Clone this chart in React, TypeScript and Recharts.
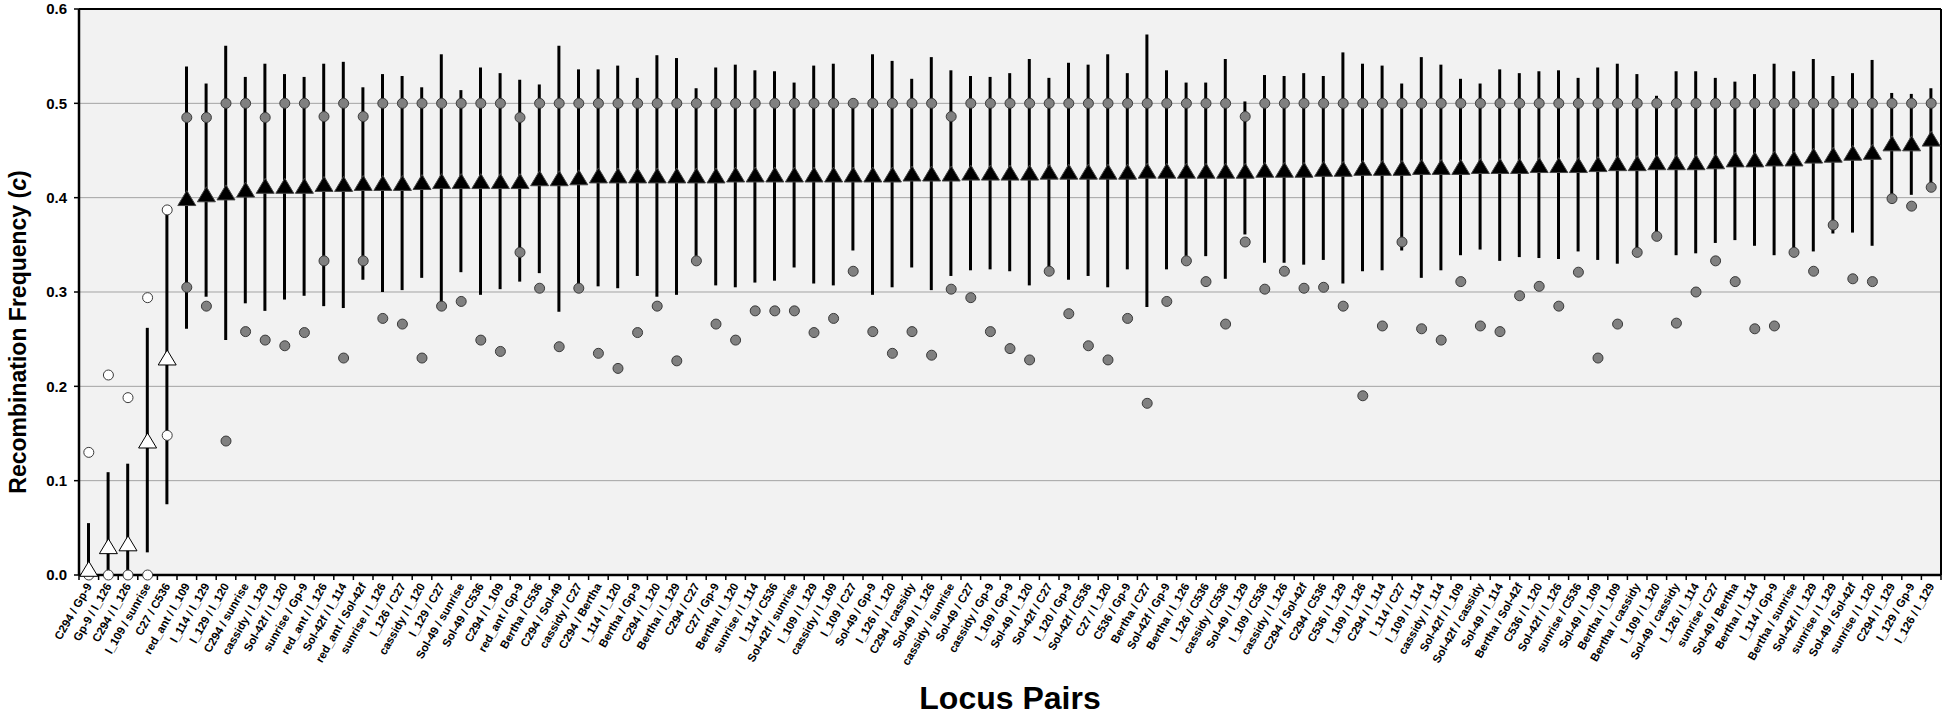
import { ComposedChart, Bar, Line, XAxis, YAxis, CartesianGrid, ReferenceLine, Label } from "recharts";

// locus pairs, left to right
const pairs = [
  "C294 / Gp-9", "Gp-9 / l_126", "C294 / l_126", "l_109 / sunrise", "C27 / C536",
  "red_ant / l_109", "l_114 / l_129", "l_129 / l_120", "C294 / sunrise", "cassidy / l_129",
  "Sol-42f / l_120", "sunrise / Gp-9", "red_ant / l_126", "Sol-42f / l_114", "red_ant / Sol-42f",
  "sunrise / l_126", "l_126 / C27", "cassidy / l_120", "l_129 / C27", "Sol-49 / sunrise",
  "Sol-49 / C536", "C294 / l_109", "red_ant / Gp-9", "Bertha / C536", "C294 / Sol-49",
  "cassidy / C27", "C294 / Bertha", "l_114 / l_120", "Bertha / Gp-9", "C294 / l_120",
  "Bertha / l_129", "C294 / C27", "C27 / Gp-9", "Bertha / l_120", "sunrise / l_114",
  "l_114 / C536", "Sol-42f / sunrise", "l_109 / l_129", "cassidy / l_109", "l_109 / C27",
  "Sol-49 / Gp-9", "l_126 / l_120", "C294 / cassidy", "Sol-49 / l_126", "cassidy / sunrise",
  "Sol-49 / C27", "cassidy / Gp-9", "l_109 / Gp-9", "Sol-49 / l_120", "Sol-42f / C27",
  "l_120 / Gp-9", "Sol-42f / C536", "C27 / l_120", "C536 / Gp-9", "Bertha / C27",
  "Sol-42f / Gp-9", "Bertha / l_126", "l_126 / C536", "cassidy / C536", "Sol-49 / l_129",
  "l_109 / C536", "cassidy / l_126", "C294 / Sol-42f", "C294 / C536", "C536 / l_129",
  "l_109 / l_126", "C294 / l_114", "l_114 / C27", "l_109 / l_114", "cassidy / l_114",
  "Sol-42f / l_109", "Sol-42f / cassidy", "Sol-49 / l_114", "Bertha / Sol-42f", "C536 / l_120",
  "Sol-42f / l_126", "sunrise / C536", "Sol-49 / l_109", "Bertha / l_109", "Bertha / cassidy",
  "l_109 / l_120", "Sol-49 / cassidy", "l_126 / l_114", "sunrise / C27", "Sol-49 / Bertha",
  "Bertha / l_114", "l_114 / Gp-9", "Bertha / sunrise", "Sol-42f / l_129", "sunrise / l_129",
  "Sol-49 / Sol-42f", "sunrise / l_120", "C294 / l_129", "l_129 / Gp-9", "l_126 / l_129",
];

// mean recombination frequency (triangles)
const meanC = [
  0.005, 0.029, 0.032, 0.141, 0.229,
  0.398, 0.402, 0.404, 0.407, 0.411, 0.411, 0.411, 0.413, 0.413, 0.414,
  0.414, 0.414, 0.415, 0.416, 0.416, 0.416, 0.416, 0.416, 0.419, 0.419,
  0.42, 0.422, 0.422, 0.422, 0.422, 0.422, 0.422, 0.422, 0.423, 0.423,
  0.423, 0.423, 0.423, 0.423, 0.423, 0.423, 0.423, 0.424, 0.424, 0.424,
  0.425, 0.425, 0.425, 0.425, 0.426, 0.426, 0.426, 0.426, 0.426, 0.427,
  0.427, 0.427, 0.427, 0.427, 0.427, 0.428, 0.428, 0.428, 0.429, 0.429,
  0.43, 0.43, 0.43, 0.431, 0.431, 0.431, 0.432, 0.432, 0.432, 0.433,
  0.433, 0.433, 0.434, 0.435, 0.435, 0.436, 0.436, 0.436, 0.437, 0.439,
  0.439, 0.44, 0.44, 0.443, 0.444, 0.446, 0.447, 0.456, 0.456, 0.461,
];

// interval ends (vertical bars)
const ciLow = [
  0.0, 0.0, 0.0, 0.024, 0.075,
  0.261, 0.295, 0.249, 0.288, 0.28, 0.292, 0.296, 0.285, 0.283, 0.313,
  0.3, 0.302, 0.315, 0.285, 0.321, 0.297, 0.303, 0.311, 0.32, 0.279,
  0.305, 0.306, 0.304, 0.317, 0.295, 0.297, 0.333, 0.307, 0.305, 0.31,
  0.312, 0.326, 0.309, 0.307, 0.344, 0.297, 0.305, 0.326, 0.302, 0.317,
  0.323, 0.324, 0.322, 0.307, 0.322, 0.313, 0.317, 0.305, 0.324, 0.284,
  0.324, 0.333, 0.338, 0.314, 0.361, 0.331, 0.331, 0.329, 0.334, 0.309,
  0.322, 0.323, 0.344, 0.315, 0.323, 0.339, 0.345, 0.333, 0.337, 0.336,
  0.335, 0.343, 0.334, 0.33, 0.342, 0.359, 0.339, 0.341, 0.352, 0.355,
  0.349, 0.339, 0.342, 0.343, 0.362, 0.363, 0.349, 0.399, 0.403, 0.411,
];
const ciHigh = [
  0.055, 0.109, 0.118, 0.262, 0.387,
  0.539, 0.521, 0.561, 0.528, 0.542, 0.531, 0.528, 0.542, 0.544, 0.517,
  0.531, 0.529, 0.517, 0.552, 0.514, 0.538, 0.532, 0.525, 0.52, 0.561,
  0.536, 0.536, 0.54, 0.527, 0.551, 0.548, 0.516, 0.538, 0.541, 0.535,
  0.534, 0.522, 0.54, 0.542, 0.5, 0.552, 0.545, 0.526, 0.549, 0.535,
  0.529, 0.528, 0.532, 0.547, 0.527, 0.543, 0.541, 0.552, 0.532, 0.573,
  0.535, 0.522, 0.522, 0.547, 0.502, 0.53, 0.529, 0.532, 0.529, 0.554,
  0.542, 0.54, 0.521, 0.549, 0.541, 0.526, 0.521, 0.536, 0.532, 0.534,
  0.535, 0.527, 0.538, 0.542, 0.531, 0.508, 0.534, 0.534, 0.527, 0.523,
  0.531, 0.542, 0.534, 0.547, 0.529, 0.532, 0.546, 0.511, 0.51, 0.516,
];

// upper and lower single-family estimates (circles)
const estHigh = [
  0.13, 0.212, 0.188, 0.294, 0.387,
  0.485, 0.485, 0.5, 0.5, 0.485, 0.5, 0.5, 0.486, 0.5, 0.486,
  0.5, 0.5, 0.5, 0.5, 0.5, 0.5, 0.5, 0.485, 0.5, 0.5,
  0.5, 0.5, 0.5, 0.5, 0.5, 0.5, 0.5, 0.5, 0.5, 0.5,
  0.5, 0.5, 0.5, 0.5, 0.5, 0.5, 0.5, 0.5, 0.5, 0.486,
  0.5, 0.5, 0.5, 0.5, 0.5, 0.5, 0.5, 0.5, 0.5, 0.5,
  0.5, 0.5, 0.5, 0.5, 0.486, 0.5, 0.5, 0.5, 0.5, 0.5,
  0.5, 0.5, 0.5, 0.5, 0.5, 0.5, 0.5, 0.5, 0.5, 0.5,
  0.5, 0.5, 0.5, 0.5, 0.5, 0.5, 0.5, 0.5, 0.5, 0.5,
  0.5, 0.5, 0.5, 0.5, 0.5, 0.5, 0.5, 0.5, 0.5, 0.5,
];
const estLow = [
  0.0, 0.0, 0.0, 0.0, 0.148,
  0.305, 0.285, 0.142, 0.258, 0.249, 0.243, 0.257, 0.333, 0.23, 0.333,
  0.272, 0.266, 0.23, 0.285, 0.29, 0.249, 0.237, 0.342, 0.304, 0.242,
  0.304, 0.235, 0.219, 0.257, 0.285, 0.227, 0.333, 0.266, 0.249, 0.28,
  0.28, 0.28, 0.257, 0.272, 0.322, 0.258, 0.235, 0.258, 0.233, 0.303,
  0.294, 0.258, 0.24, 0.228, 0.322, 0.277, 0.243, 0.228, 0.272, 0.182,
  0.29, 0.333, 0.311, 0.266, 0.353, 0.303, 0.322, 0.304, 0.305, 0.285,
  0.19, 0.264, 0.353, 0.261, 0.249, 0.311, 0.264, 0.258, 0.296, 0.306,
  0.285, 0.321, 0.23, 0.266, 0.342, 0.359, 0.267, 0.3, 0.333, 0.311,
  0.261, 0.264, 0.342, 0.322, 0.371, 0.314, 0.311, 0.399, 0.391, 0.411,
];

const yTicks = [0, 0.1, 0.2, 0.3, 0.4, 0.5, 0.6];

// the first pairs are drawn with open (white) markers
const OPEN_COUNT = 5;

const data = pairs.map((name, i) => ({
  name,
  mean: meanC[i],
  ci: [ciLow[i], ciHigh[i]],
  hi: estHigh[i],
  lo: estLow[i],
}));

const W = 1946;
const H = 719;
const PLOT_LEFT = 79;
const PLOT_RIGHT = 1941;
const BAND = (PLOT_RIGHT - PLOT_LEFT) / pairs.length;
const TICK_SIZE = 5;
const TICK_MARGIN = 4;
const FONT = "'Liberation Sans', Arial, sans-serif";

function PairTick(props: any) {
  const { x, y, payload, index } = props;
  const axisY = y - TICK_SIZE - TICK_MARGIN;
  const half = BAND / 2;
  return (
    <g>
      <line x1={x + half} x2={x + half} y1={axisY} y2={axisY + TICK_SIZE} stroke="#000" strokeWidth={1.5} />
      {index === 0 && (
        <line x1={x - half} x2={x - half} y1={axisY} y2={axisY + TICK_SIZE} stroke="#000" strokeWidth={1.5} />
      )}
      <text
        x={x}
        y={y}
        dy="0.35em"
        textAnchor="end"
        transform={`rotate(-60, ${x}, ${y})`}
        fontSize={11.5}
        fontWeight="bold"
        fontFamily={FONT}
        fill="#000"
      >
        {payload.value}
      </text>
    </g>
  );
}

function circleDot(p: any) {
  const open = p.index < OPEN_COUNT;
  return (
    <circle
      key={`c-${p.dataKey}-${p.index}`}
      cx={p.cx}
      cy={p.cy}
      r={5}
      fill={open ? "#fff" : "#808080"}
      stroke="#3a3a3a"
      strokeWidth={1}
    />
  );
}

function triangleDot(p: any) {
  const open = p.index < OPEN_COUNT;
  const { cx, cy } = p;
  const pts = `${cx},${cy - 9} ${cx - 9},${cy + 6} ${cx + 9},${cy + 6}`;
  return (
    <polygon
      key={`t-${p.index}`}
      points={pts}
      fill={open ? "#fff" : "#000"}
      stroke={open ? "#000" : "#444"}
      strokeWidth={1}
    />
  );
}

export default function App() {
  return (
    <div style={{ position: "absolute", left: 0, top: 0, width: W, height: H, background: "#fff" }}>
      <ComposedChart width={W} height={H} data={data} margin={{ top: 9, right: W - PLOT_RIGHT, bottom: 0, left: 19 }}>
        <CartesianGrid vertical={false} stroke="#a3a3a3" fill="#f2f2f2" />
        <XAxis
          dataKey="name"
          interval={0}
          height={144}
          tickSize={TICK_SIZE}
          tickMargin={TICK_MARGIN}
          tickLine={false}
          axisLine={{ stroke: "#000", strokeWidth: 2.5 }}
          tick={<PairTick />}
        >
          <Label
            content={() => (
              <text x={1010} y={709} textAnchor="middle" fontSize={32} fontWeight="bold" fontFamily={FONT} fill="#000">
                Locus Pairs
              </text>
            )}
          />
        </XAxis>
        <YAxis
          width={60}
          domain={[0, 0.6]}
          ticks={yTicks}
          tickFormatter={(v: number) => v.toFixed(1)}
          tickSize={5}
          tickMargin={7}
          axisLine={{ stroke: "#000", strokeWidth: 2.5 }}
          tickLine={{ stroke: "#000", strokeWidth: 1.5 }}
          tick={{ fontSize: 15, fontWeight: "bold", fill: "#000", fontFamily: FONT }}
        >
          <Label
            content={() => (
              <text
                x={26}
                y={332}
                transform="rotate(-90, 26, 332)"
                textAnchor="middle"
                fontSize={23}
                fontWeight="bold"
                fontFamily={FONT}
                fill="#000"
              >
                Recombination Frequency (<tspan fontStyle="italic">c</tspan>)
              </text>
            )}
          />
        </YAxis>
        <ReferenceLine y={0.6} stroke="#000" strokeWidth={2} />
        <ReferenceLine x={pairs[pairs.length - 1]} position="end" stroke="#000" strokeWidth={2} />

        <Bar dataKey="ci" barSize={3} fill="#000" isAnimationActive={false} />
        <Line dataKey="hi" stroke="none" dot={circleDot} activeDot={false} legendType="none" isAnimationActive={false} />
        <Line dataKey="lo" stroke="none" dot={circleDot} activeDot={false} legendType="none" isAnimationActive={false} />
        <Line dataKey="mean" stroke="none" dot={triangleDot} activeDot={false} legendType="none" isAnimationActive={false} />
      </ComposedChart>
    </div>
  );
}
